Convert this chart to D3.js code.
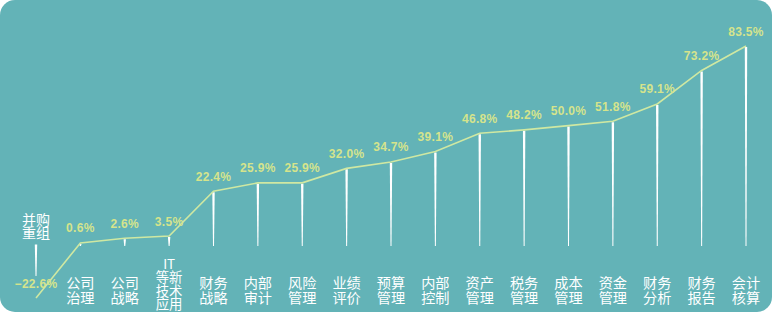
<!DOCTYPE html>
<html>
<head>
<meta charset="utf-8">
<script src="https://cdn.jsdelivr.net/npm/d3@7"></script>
<style>
  body { margin: 0; background: #fff; }
  svg { display: block; }
</style>
</head>
<body>
<svg class="chart"></svg>
<script>
// datos
var categories = ["并购\n重组", "公司\n治理", "公司\n战略", "IT\n等新\n技术\n应用", "财务\n战略", "内部\n审计",
  "风险\n管理", "业绩\n评价", "预算\n管理", "内部\n控制", "资产\n管理", "税务\n管理", "成本\n管理",
  "资金\n管理", "财务\n分析", "财务\n报告", "会计\n核算"];
var values = [-22.6, 0.6, 2.6, 3.5, 22.4, 25.9, 25.9, 32.0, 34.7, 39.1, 46.8, 48.2, 50.0, 51.8, 59.1, 73.2, 83.5];
var data = categories.map((c, i) => ({cat: c, v: values[i]}));

var W = 776, H = 315;
var canvas = d3.select(".chart").attr("width", W).attr("height", H);

canvas.append("rect")
  .attr("x", 0).attr("y", 0)
  .attr("width", 772).attr("height", 312)
  .attr("rx", 15)
  .attr("fill", "#63b3b7");

var x = d3.scalePoint().domain(categories).range([36, 746]);
var y = d3.scaleLinear().domain([0, 83.5]).range([244.4, 46]);
var base = 246;

// lineas blancas verticales (un poco afiladas hacia abajo)
canvas.selectAll("path.stem")
  .data(data)
  .enter()
    .append("path")
      .attr("class", "stem")
      .attr("d", d => {
        var cx = x(d.cat);
        var y0 = d.v >= 0 ? y(d.v) + 1 : y(0);
        var y1 = d.v >= 0 ? base : y(d.v) - 22;
        return "M" + (cx - 1.2) + "," + y0 + "L" + (cx + 1.2) + "," + y0 +
               "L" + (cx + 0.5) + "," + y1 + "L" + (cx - 0.5) + "," + y1 + "Z";
      })
      .attr("fill", "#ffffff");

var line = d3.line().x(d => x(d.cat)).y(d => y(d.v));
canvas.append("path")
  .datum(data)
  .attr("d", line)
  .attr("fill", "none")
  .attr("stroke", "#cfe8a2")
  .attr("stroke-width", 1.6);

// valores
canvas.selectAll("text.val")
  .data(data)
  .enter()
    .append("text")
      .attr("class", "val")
      .attr("x", d => x(d.cat))
      .attr("y", d => y(d.v) - 14.5)
      .attr("text-anchor", "middle")
      .attr("dominant-baseline", "central")
      .attr("font-family", "'Liberation Sans', Arial, sans-serif")
      .attr("font-weight", "bold")
      .attr("font-size", "12px")
      .attr("letter-spacing", "0.3px")
      .attr("fill", "#d5e48c")
      .text(d => (d.v < 0 ? "−" : "") + Math.abs(d.v).toFixed(1) + "%");

// categorias, un text con tspans por etiqueta
var labels = canvas.selectAll("text.lab")
  .data(data)
  .enter()
    .append("text")
      .attr("class", "lab")
      .attr("text-anchor", "middle")
      .attr("font-family", "'Noto Sans CJK SC', sans-serif")
      .attr("fill", "#ffffff");

labels.each(function(d) {
  var lines = d.cat.split("\n");
  var y0, step, fs;
  if (d.v < 0) { y0 = 219; step = 13; fs = 14; }
  else if (lines.length > 2) { y0 = 262.5; step = 13.6; fs = 13.4; }
  else { y0 = 281.5; step = 15; fs = 14.2; }
  d3.select(this)
    .attr("font-size", fs + "px")
    .selectAll("tspan")
    .data(lines)
    .enter()
      .append("tspan")
        .attr("x", x(d.cat))
        .attr("y", (t, i) => y0 + i * step)
        .attr("dominant-baseline", "central")
        .text(t => t);
});
</script>
</body>
</html>
